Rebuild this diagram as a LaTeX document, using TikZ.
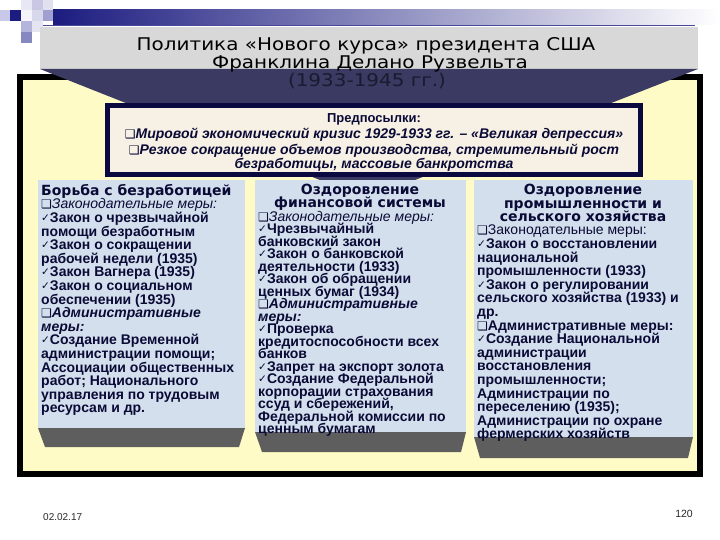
\documentclass[tikz,border=0pt]{standalone}
\usepackage{fontspec}
\setmainfont{Liberation Sans}
\newfontfamily\dejavu{DejaVu Sans}
\newfontfamily\headfont{DejaVu Sans}
\definecolor{navy}{HTML}{0A0A40}
\definecolor{band}{HTML}{3A3A62}
\definecolor{framey}{HTML}{FFFBC6}
\definecolor{panelb}{HTML}{D3DFEC}
\definecolor{boxc}{HTML}{F7F0E4}
\definecolor{granite}{HTML}{D8D8D8}
\definecolor{shade}{HTML}{5E5E5E}
\definecolor{txt}{HTML}{0A0A36}
\definecolor{barnavy}{HTML}{1C1C80}
\definecolor{darkttl}{HTML}{1A1A30}
\definecolor{foot}{HTML}{282828}
\newcommand\mychk{{\dejavu\mdseries\upshape\fontsize{10.5}{10}\selectfont\raisebox{1pt}{✓}}}
\newcommand\mybx{{\dejavu\mdseries\upshape\fontsize{12}{10}\selectfont ❑}}
\newcommand\tight{\lineskiplimit=-100pt\lineskip=0pt}
\newcommand\wide[1]{\scalebox{1.14}[1]{#1}}
\begin{document}
\begin{tikzpicture}[x=1pt,y=-1pt,
  body/.style={anchor=north west, inner sep=0pt, align=left, text=txt, font=\bfseries\fontsize{14}{13.6}\selectfont\tight},
  head/.style={anchor=north, inner sep=0pt, align=center, text=txt, font=\headfont\bfseries\fontsize{14}{13.6}\selectfont\tight},
  pre/.style={anchor=base, inner sep=0pt, text=txt, font=\bfseries\itshape\fontsize{14}{14}\selectfont},
  ttl/.style={anchor=base, inner sep=0pt, text=black, font=\dejavu\fontsize{17.5}{17.5}\selectfont},
  panel/.style={fill=panelb},
  shadow/.style={fill=shade}]
\useasboundingbox (0,0) rectangle (720,540);
\fill[white] (0,0) rectangle (720,540);
% top decoration
\shade[left color=barnavy, right color=white] (53,10) rectangle (720,25);
\draw[color=barnavy!80, line width=1pt] (43,26) -- (695,26);
\fill[color={rgb,255:red,200;green,200;blue,232}] (0,10) rectangle (10,21);
\fill[color=barnavy] (10,10) rectangle (21,21);
\fill[color={rgb,255:red,232;green,232;blue,244}] (21,0) rectangle (32,10);
\fill[color={rgb,255:red,200;green,200;blue,228}] (32,0) rectangle (43,10);
\fill[color={rgb,255:red,224;green,224;blue,240}] (43,0) rectangle (53,10);
\fill[color={rgb,255:red,244;green,244;blue,250}] (21,10) rectangle (32,21);
\fill[color={rgb,255:red,216;green,216;blue,236}] (32,10) rectangle (43,21);
\fill[color={rgb,255:red,160;green,160;blue,208}] (43,10) rectangle (53,21);
\fill[color={rgb,255:red,180;green,180;blue,220}] (21,21) rectangle (32,32);
\fill[color={rgb,255:red,228;green,228;blue,242}] (32,21) rectangle (43,32);
\fill[color={rgb,255:red,136;green,136;blue,192}] (21,32) rectangle (32,43);
% frame
\draw[line width=6pt, fill=framey] (20,77) rectangle (700,474);
% banner
\fill[granite] (40,27) rectangle (698,69);
\fill[band] (40,69) -- (698,69) -- (415,180) -- (320,180) -- cycle;
\node[ttl] (t1) at (366,51) {\wide{Политика «Нового курса» президента США}};
\node[ttl] (t2) at (370,69) {\wide{Франклина Делано Рузвельта}};
\node[ttl, text=darkttl] (t3) at (367,87) {\wide{(1933-1945 гг.)}};
% preconditions box
\draw[line width=5pt, draw=navy, fill=boxc] (107.5,105.5) rectangle (640.5,174.5);
\node[pre, font=\bfseries\fontsize{13}{13}\selectfont] (p1) at (374,123) {Предпосылки:};
\node[pre] (p2) at (374,139) {\mybx Мировой экономический кризис 1929-1933 гг. – «Великая депрессия»};
\node[pre] (p3) at (374,154.5) {\mybx Резкое сокращение объемов производства, стремительный рост};
\node[pre] (p4) at (374,169) {безработицы, массовые банкротства};
% panels
\fill[panel] (38,180) rectangle (245,428);
\fill[shadow] (38,428) -- (245,428) -- (239,447) -- (45,447) -- cycle;
\fill[panel] (255,180) rectangle (466,432);
\fill[shadow] (255,432) -- (466,432) -- (461,452) -- (262,452) -- cycle;
\fill[panel] (474,180) rectangle (693,437);
\fill[shadow] (474,437) -- (693,437) -- (688,458) -- (480,458) -- cycle;
% panel 1
\node[body] (b1) at (41,184) {{\headfont Борьба с безработицей}\\
{\mdseries\itshape\mybx Законодательные меры:}\\
\mychk Закон о чрезвычайной\\
помощи безработным\\
\mychk Закон о сокращении\\
рабочей недели (1935)\\
\mychk Закон Вагнера (1935)\\
\mychk Закон о социальном\\
обеспечении (1935)\\
{\itshape\mybx Административные}\\
{\itshape меры:}\\
\mychk Создание Временной\\
администрации помощи;\\
Ассоциации общественных\\
работ; Национального\\
управления по трудовым\\
ресурсам и др.};
% panel 2
\node[head, font=\headfont\bfseries\fontsize{14}{13}\selectfont\tight] (h2) at (360,184) {Оздоровление\\финансовой системы};
\node[body, font=\bfseries\fontsize{14}{12.5}\selectfont\tight] (b2) at (258,211) {{\mdseries\itshape\mybx Законодательные меры:}\\
\mychk Чрезвычайный\\
банковский закон\\
\mychk Закон о банковской\\
деятельности (1933)\\
\mychk Закон об обращении\\
ценных бумаг (1934)\\
{\itshape\mybx Административные}\\
{\itshape меры:}\\
\mychk Проверка\\
кредитоспособности всех\\
банков\\
\mychk Запрет на экспорт золота\\
\mychk Создание Федеральной\\
корпорации страхования\\
ссуд и сбережений,\\
Федеральной комиссии по\\
ценным бумагам};
% panel 3
\node[head] (h3) at (583,184) {Оздоровление\\промышленности и\\сельского хозяйства};
\node[body] (b3) at (477,225) {{\mdseries\mybx Законодательные меры:}\\
\mychk Закон о восстановлении\\
национальной\\
промышленности (1933)\\
\mychk Закон о регулировании\\
сельского хозяйства (1933) и\\
др.\\
\mybx Административные меры:\\
\mychk Создание Национальной\\
администрации\\
восстановления\\
промышленности;\\
Администрации по\\
переселению (1935);\\
Администрации по охране\\
фермерских  хозяйств};
% footer
\node[anchor=west, inner sep=0pt, text=foot, font=\fontsize{10}{10}\selectfont] (date) at (43,517) {02.02.17};
\node[anchor=east, inner sep=0pt, text=foot, font=\fontsize{10.5}{10}\selectfont] (page) at (693,514) {120};
\end{tikzpicture}
\end{document}
